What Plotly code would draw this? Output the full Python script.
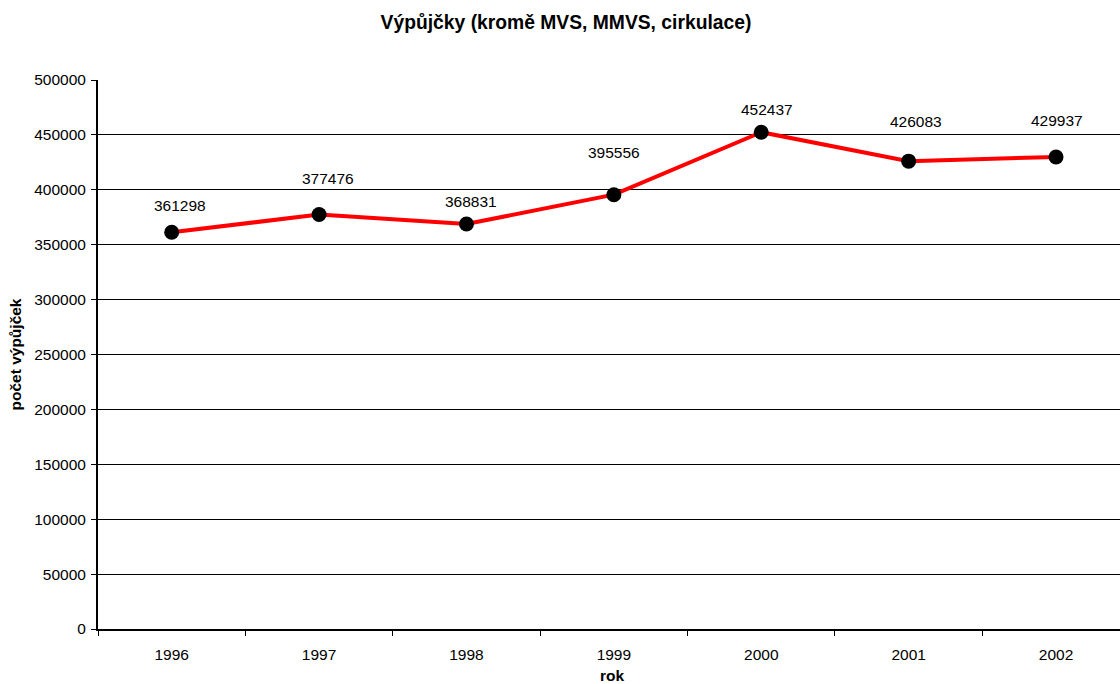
import plotly.graph_objects as go

years = ["1996", "1997", "1998", "1999", "2000", "2001", "2002"]
loans = [361298, 377476, 368831, 395556, 452437, 426083, 429937]

# label placement (style only, px)
label_dy = [27, 36, 23, 42, 23, 40, 36]
label_dx = [8, 9, 5, 0, 6, 7, 1]

font = "Liberation Sans, Arial, sans-serif"
fs = 15.5

fig = go.Figure()
fig.add_trace(go.Scatter(
    x=years, y=loans, mode="lines+markers",
    line=dict(color="#ff0000", width=4),
    marker=dict(color="black", size=15),
    hoverinfo="x+y", showlegend=False,
))
for i, (v, dy, dx) in enumerate(zip(loans, label_dy, label_dx)):
    fig.add_annotation(x=i, y=v, xref="x", yref="y", text=str(v),
                       showarrow=False, yshift=dy, xshift=dx,
                       font=dict(family=font, size=fs, color="black"))

# axis titles
fig.add_annotation(text="<b>počet výpůjček</b>", xref="paper", yref="paper",
                   x=(15 - 98) / 1022, y=0.5, textangle=-90, showarrow=False,
                   xanchor="center", yanchor="middle",
                   font=dict(family=font, size=fs, color="black"))
fig.add_annotation(text="<b>rok</b>", xref="paper", yref="paper",
                   x=(612 - 98) / 1022, y=(629 - 675) / 549, showarrow=False,
                   xanchor="center", yanchor="middle",
                   font=dict(family=font, size=fs, color="black"))

fig.update_layout(
    width=1120, height=684,
    paper_bgcolor="white", plot_bgcolor="white",
    margin=dict(l=98, r=0, t=80, b=55, autoexpand=False),
    title=dict(text="<b>Výpůjčky (kromě MVS, MMVS, cirkulace)</b>",
               x=566 / 1120, xanchor="center", y=1 - 22 / 684, yanchor="middle",
               xref="container", automargin=False,
               font=dict(family=font, size=19.3, color="black")),
    font=dict(family=font, size=fs, color="black"),
)
fig.update_xaxes(
    type="category", range=[-0.5, 6.434], tickson="boundaries",
    ticks="outside", ticklen=5, tickcolor="black", tickwidth=1,
    showline=True, linecolor="black", linewidth=2, showgrid=False,
    automargin=False, ticklabelstandoff=10,
    tickfont=dict(family=font, size=fs),
)
fig.update_yaxes(
    range=[0, 500000], tickmode="linear", dtick=50000, tick0=0,
    tickformat="d",
    ticks="outside", ticklen=5, tickcolor="black", tickwidth=1,
    showline=True, linecolor="black", linewidth=2,
    showgrid=True, gridcolor="black", gridwidth=1, zeroline=False,
    automargin=False, ticklabelstandoff=2,
    tickfont=dict(family=font, size=fs),
)

fig.write_html("out.html", config={"displayModeBar": False},
               post_script="document.body.style.margin='0';")
